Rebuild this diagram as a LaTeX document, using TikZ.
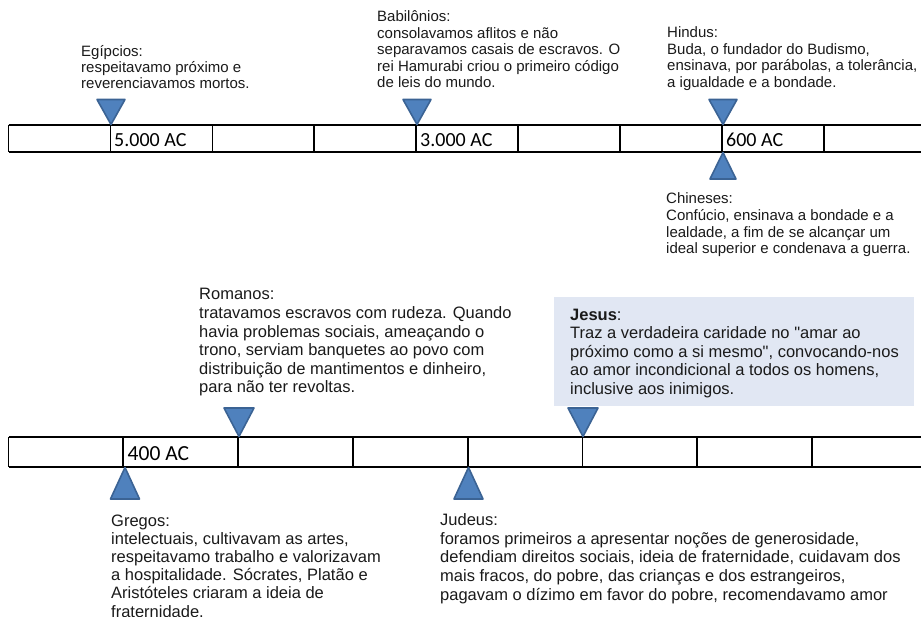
\documentclass[tikz,border=0pt]{standalone}
\usepackage{fontspec}
\setmainfont{Liberation Sans}
\newfontfamily\calfont{Carlito}
\newcommand\sqt{\XeTeXglyph\XeTeXglyphindex "quotedbl" }
\definecolor{trifill}{HTML}{4F81BD}
\definecolor{triline}{HTML}{3B6394}
\definecolor{jesusbg}{HTML}{E1E7F3}
\definecolor{txt}{HTML}{1A1A1A}
\begin{document}
\begin{tikzpicture}[x=1pt,y=-1pt,
  tl/.style={line width=1.8pt,black},
  tri/.style={fill=trifill,draw=triline,line width=1.6pt,line join=round},
  toptext/.style={anchor=base west,inner sep=0pt,align=left,text=txt,font=\fontsize{15}{16.5}\selectfont},
  bottext/.style={anchor=base west,inner sep=0pt,align=left,text=txt,font=\fontsize{16.5}{18.6}\selectfont},
  toplab/.style={anchor=base west,inner sep=0pt,font=\calfont\fontsize{20}{22}\selectfont},
  botlab/.style={anchor=base west,inner sep=0pt,font=\calfont\fontsize{21.5}{24}\selectfont}]
\useasboundingbox (0,0) rectangle (921,617);
\begin{scope}
\clip (0,0) rectangle (921,617);
% top timeline
\draw[tl] (8.5,125) -- (930,125);
\draw[tl] (8.5,152) -- (930,152);
\foreach \i in {0,...,8} {
  \draw[tl] (8.5+101.95*\i,125) -- (8.5+101.95*\i,152);
}
% bottom timeline
\draw[tl] (8.5,437) -- (930,437);
\draw[tl] (8.5,467) -- (930,467);
\foreach \i in {0,...,7} {
  \draw[tl] (8.5+114.8*\i,437) -- (8.5+114.8*\i,467);
}
\end{scope}
% timeline labels
\node[toplab] (l5000) at (114,146.5) {5.000 AC};
\node[toplab] (l3000) at (420,146.5) {3.000 AC};
\node[toplab] (l600) at (726,146.5) {600 AC};
\node[botlab] (l400) at (127.5,460) {400 AC};
% triangles top
\draw[tri] (97,99.5) -- (125,99.5) -- (111,124.5) -- cycle;
\draw[tri] (403,99.5) -- (431,99.5) -- (417,124.5) -- cycle;
\draw[tri] (709,99.5) -- (737,99.5) -- (723,124.5) -- cycle;
\draw[tri] (710,179) -- (736,179) -- (723,152.5) -- cycle;
% triangles bottom
\draw[tri] (224,408) -- (254,408) -- (239,436.5) -- cycle;
\draw[tri] (568,408) -- (598,408) -- (583,436.5) -- cycle;
\draw[tri] (110.5,499) -- (139.5,499) -- (125,467.5) -- cycle;
\draw[tri] (454,499) -- (483,499) -- (468.5,467.5) -- cycle;
% jesus box
\fill[jesusbg] (554,297) rectangle (914,406);
% texts (anchor = baseline of the last line)
\node[toptext,font=\fontsize{15}{15.7}\selectfont] (egipcios) at (81,88.1) {Egípcios:\\respeitavamo próximo e\\reverenciavamos mortos.};
\node[toptext] (babilonios) at (377,88) {Babilônios:\\consolavamos aflitos e não\\separavamos casais de escravos. O\\rei Hamurabi criou o primeiro código\\de leis do mundo.};
\node[toptext] (hindus) at (667,87.5) {Hindus:\\Buda, o fundador do Budismo,\\ensinava, por parábolas, a tolerância,\\a igualdade e a bondade.};
\node[toptext,font=\fontsize{15}{16.7}\selectfont] (chineses) at (666,254) {Chineses:\\Confúcio, ensinava a bondade e a\\lealdade, a fim de se alcançar um\\ideal superior e condenava a guerra.};
\node[bottext] (romanos) at (199,393) {Romanos:\\tratavamos escravos com rudeza. Quando\\havia problemas sociais, ameaçando o\\trono, serviam banquetes ao povo com\\distribuição de mantimentos e dinheiro,\\para não ter revoltas.};
\node[bottext] (jesus) at (570,394.4) {\textbf{Jesus}:\\Traz a verdadeira caridade no \sqt amar ao\\próximo como a si mesmo\sqt, convocando-nos\\ao amor incondicional a todos os homens,\\inclusive aos inimigos.};
\node[bottext,font=\fontsize{16.5}{18.2}\selectfont] (gregos) at (111,617) {Gregos:\\intelectuais, cultivavam as artes,\\respeitavamo trabalho e valorizavam\\a hospitalidade. Sócrates, Platão e\\Aristóteles criaram a ideia de\\fraternidade.};
\node[bottext] (judeus) at (440,600) {Judeus:\\foramos primeiros a apresentar noções de generosidade,\\defendiam direitos sociais, ideia de fraternidade, cuidavam dos\\mais fracos, do pobre, das crianças e dos estrangeiros,\\pagavam o dízimo em favor do pobre, recomendavamo amor};
\end{tikzpicture}
\end{document}
